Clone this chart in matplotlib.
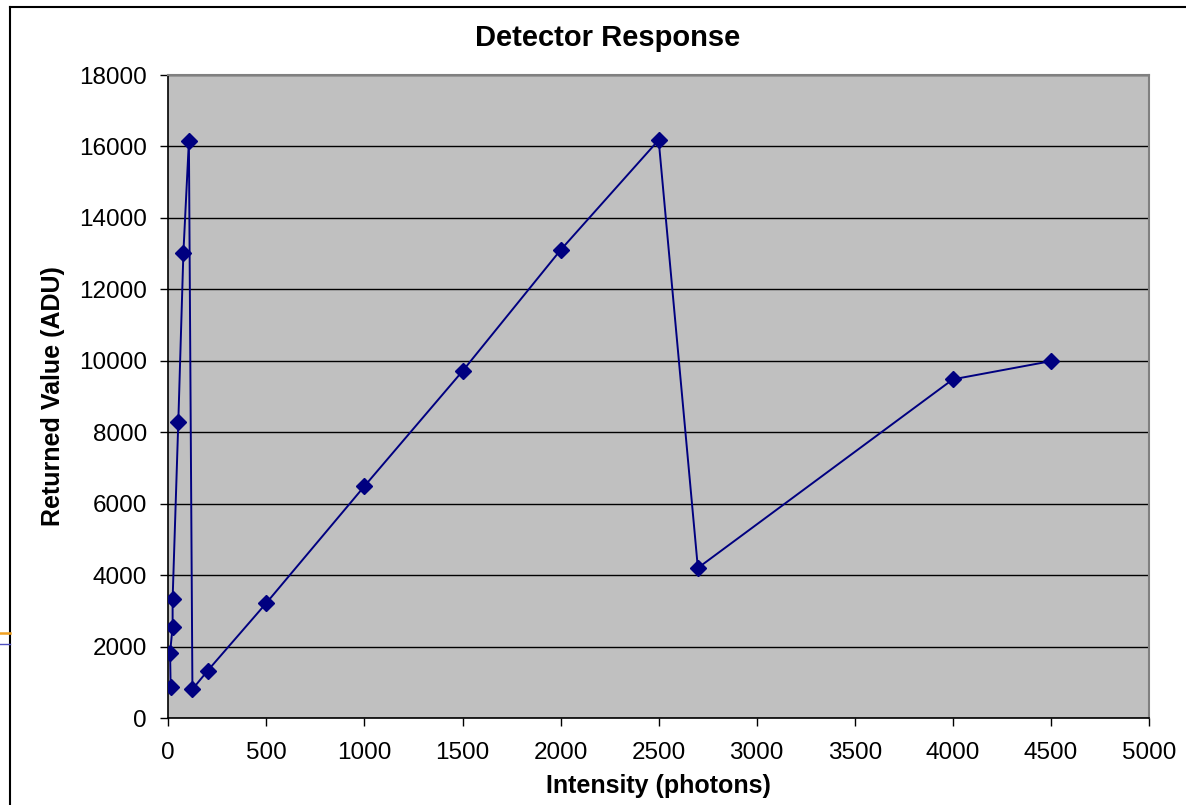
import matplotlib
matplotlib.use("Agg")
import matplotlib.pyplot as plt
from matplotlib.lines import Line2D

plt.rcParams['font.family'] = ['Liberation Sans', 'DejaVu Sans']

# Photon intensity vs returned ADU value
intensity = [12, 9, 22, 22, 51, 77, 105, 123, 200, 500, 1000, 1500, 2000, 2500, 2700, 4000, 4500]
returned = [860, 1830, 2550, 3330, 8290, 13030, 16150, 805, 1320, 3220, 6490, 9710, 13100, 16180, 4200, 9480, 9990]

x_ticks = [0, 500, 1000, 1500, 2000, 2500, 3000, 3500, 4000, 4500, 5000]
y_ticks = [0, 2000, 4000, 6000, 8000, 10000, 12000, 14000, 16000, 18000]

W, H = 1186, 805
fig = plt.figure(figsize=(W / 100, H / 100), dpi=100)
ax = fig.add_axes([168.3 / W, 1 - 718 / H, (1149 - 168.3) / W, (718 - 75) / H])
ax.set_facecolor('#C0C0C0')

ax.plot(intensity, returned, color='#000080', linewidth=1.4,
        marker='D', markersize=8, markerfacecolor='#000080',
        markeredgecolor='#000080', zorder=3)

ax.set_xlim(0, 5000)
ax.set_ylim(0, 18000)
ax.set_xticks(x_ticks)
ax.set_yticks(y_ticks)
ax.yaxis.grid(True, color='black', linewidth=1.0)
ax.set_axisbelow(True)

ax.tick_params(axis='both', direction='out', length=5.8, width=1.0,
               color='black', labelsize=17.5)
ax.tick_params(axis='y', pad=9.5)
ax.tick_params(axis='x', pad=11.5)

for side in ('left', 'bottom'):
    ax.spines[side].set_color('black')
    ax.spines[side].set_linewidth(1.2)
for side in ('top', 'right'):
    ax.spines[side].set_color('#808080')
    ax.spines[side].set_linewidth(1.5)

fig.text(608 / W, 1 - 38 / H, 'Detector Response', fontsize=21, fontweight='bold',
         ha='center', va='center')
ax.set_xlabel('Intensity (photons)', fontsize=18, fontweight='bold', labelpad=7)
ax.set_ylabel('Returned Value (ADU)', fontsize=18, fontweight='bold', labelpad=10)

# Chart-area frame (left and top edges) and small strokes at the far left
fig.add_artist(Line2D([10 / W, 10 / W], [0, 1 - 7 / H], transform=fig.transFigure,
                      color='black', linewidth=1.5))
fig.add_artist(Line2D([10 / W, 1], [1 - 7 / H, 1 - 7 / H], transform=fig.transFigure,
                      color='black', linewidth=1.5))
fig.add_artist(Line2D([0, 10 / W], [1 - 633 / H, 1 - 633 / H], transform=fig.transFigure,
                      color='#F0A020', linewidth=1.8))
fig.add_artist(Line2D([0, 10 / W], [1 - 644 / H, 1 - 644 / H], transform=fig.transFigure,
                      color='#5050C0', linewidth=1.0))

fig.savefig('out.png', dpi=100, facecolor='white')
